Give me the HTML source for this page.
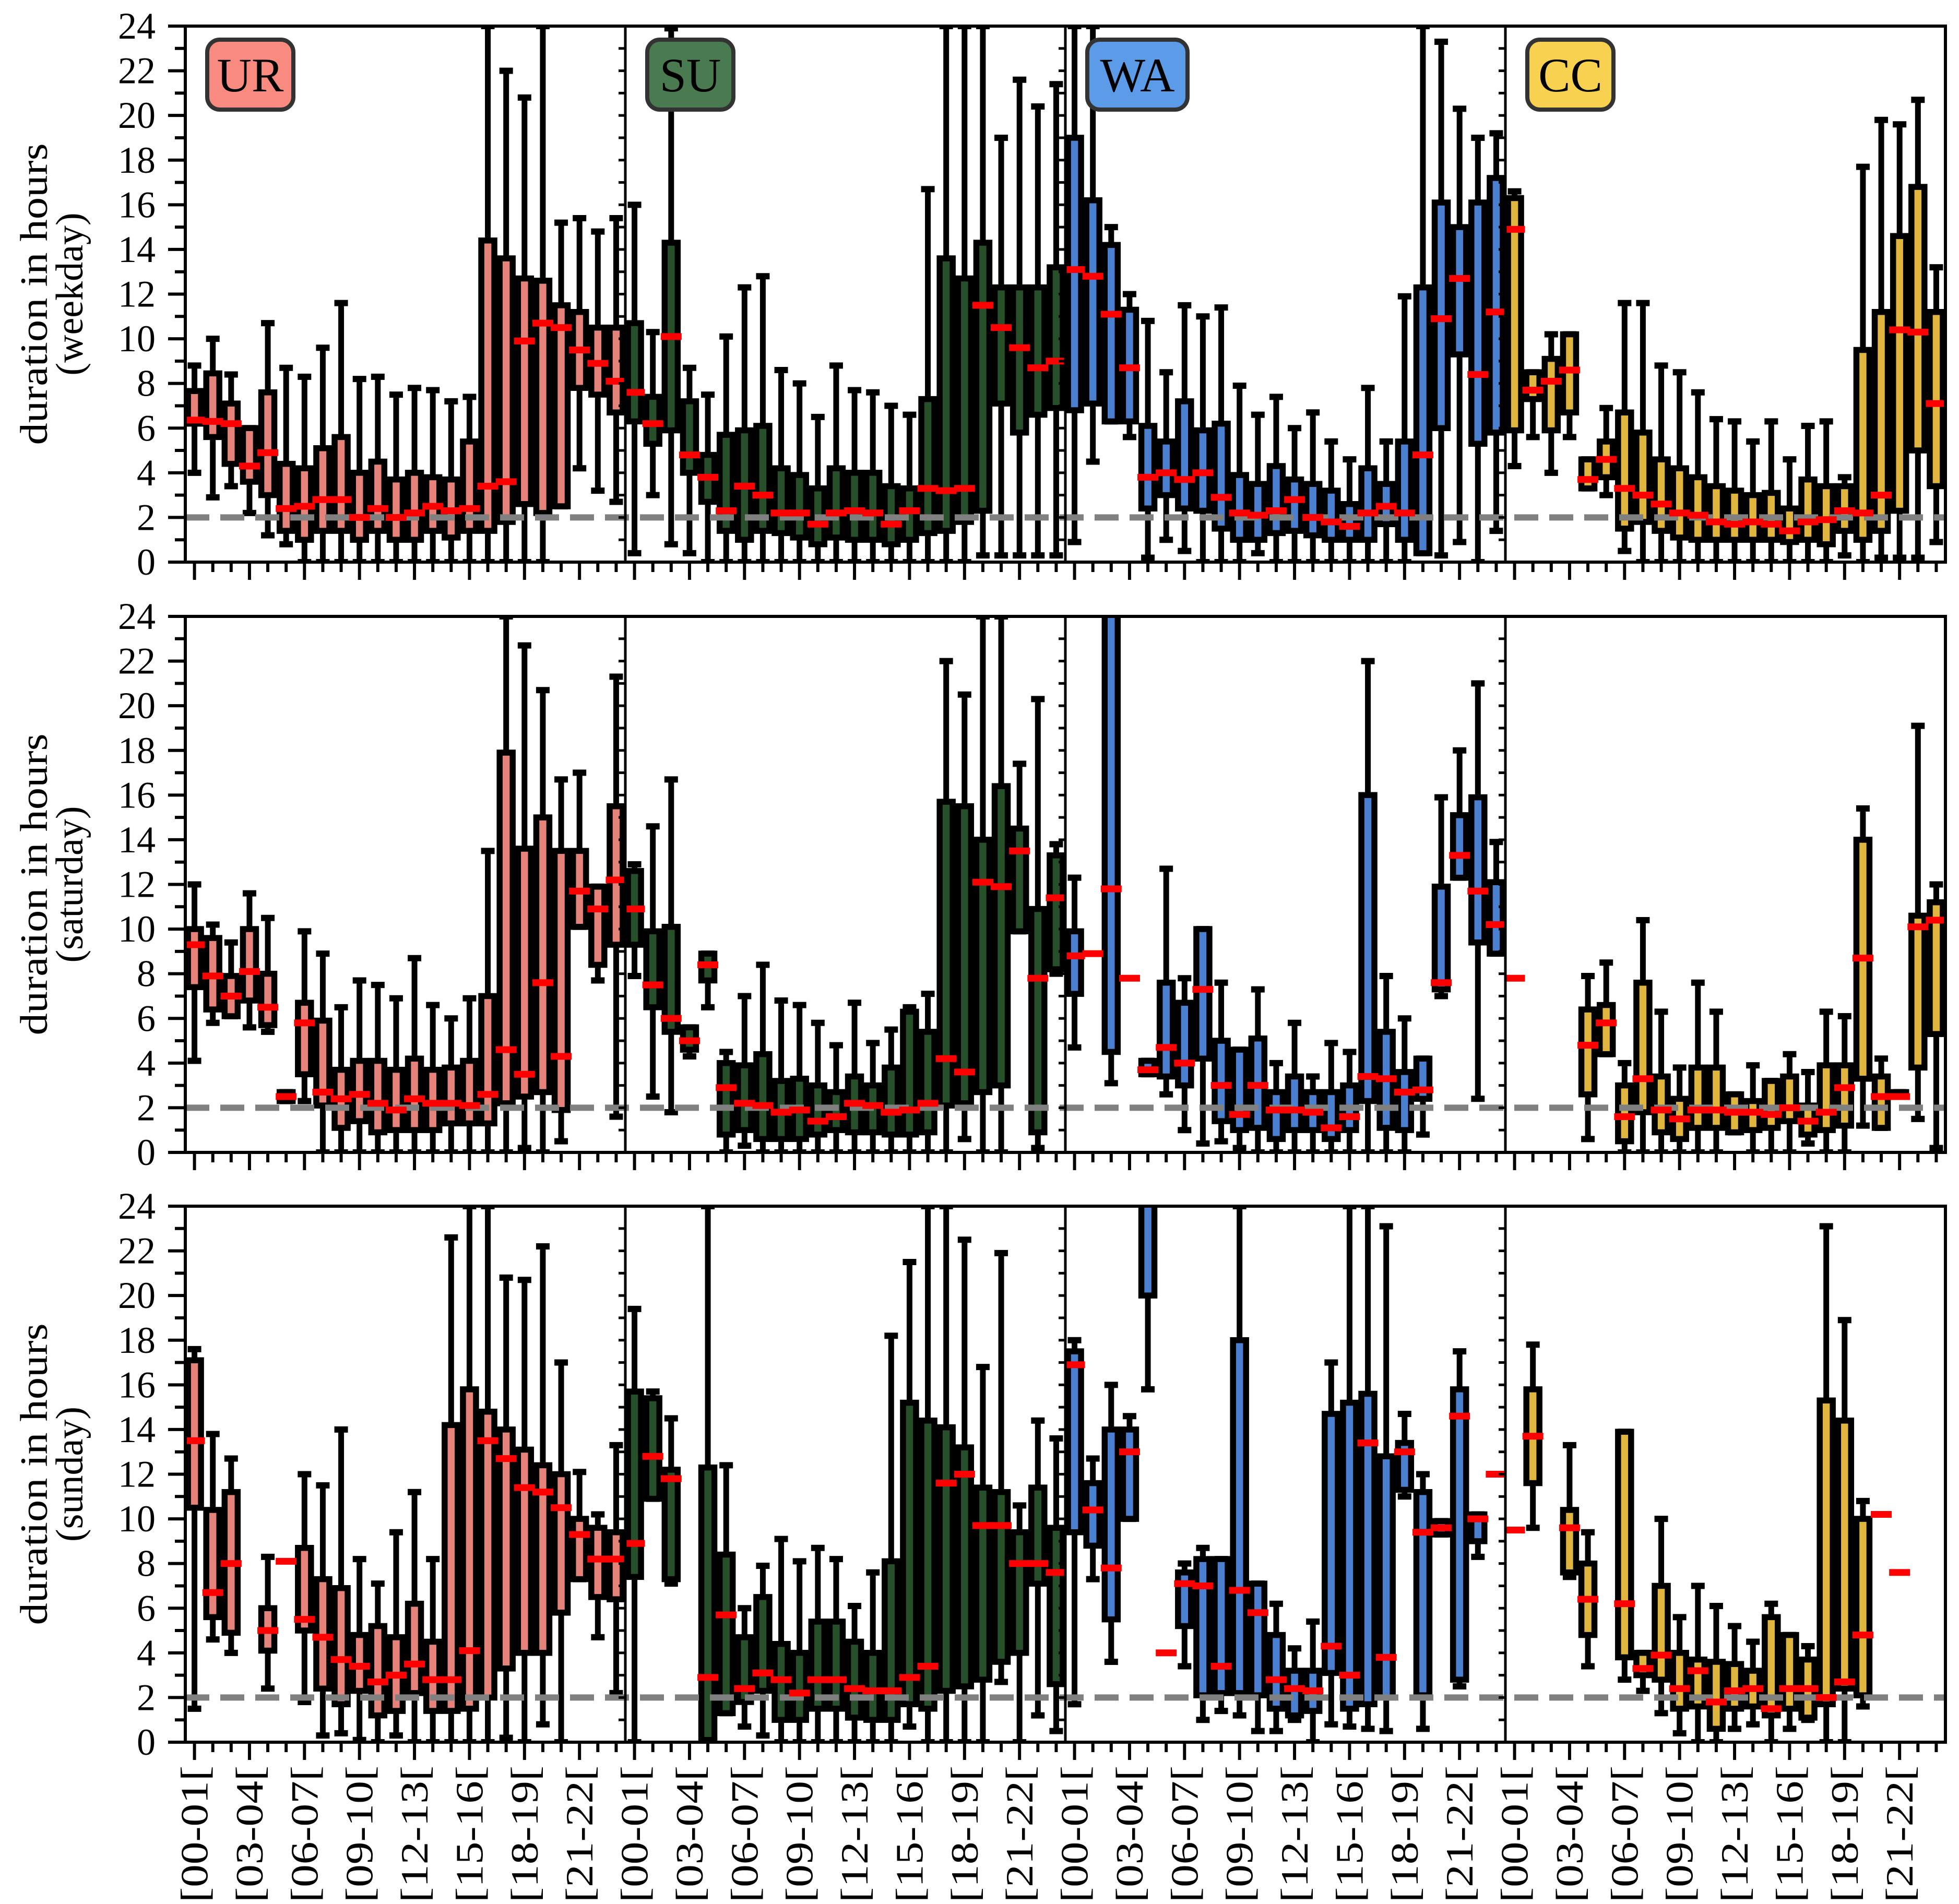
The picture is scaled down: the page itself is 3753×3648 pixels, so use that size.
<!DOCTYPE html>
<html><head><meta charset="utf-8"><title>Duration boxplots</title>
<style>html,body{margin:0;padding:0;background:#fff;}svg{display:block;}</style></head>
<body>
<svg id="chart" width="3753" height="3648" viewBox="0 0 3753 3648" xmlns="http://www.w3.org/2000/svg" font-family="Liberation Serif, serif"></svg>
<script>
const hourLabels = ["[00-01[","[03-04[","[06-07[","[09-10[","[12-13[","[15-16[","[18-19[","[21-22["];
const groupNames = ["UR","SU","WA","CC"];
const rowNames = ["weekday","saturday","sunday"];
const yTicks = [0,2,4,6,8,10,12,14,16,18,20,22,24];
const N=null, M=(m)=>[null,null,m,null,null];

const weekdayUR = [[4,6.2,6.36,7.66,8.8],[2.9,5.6,6.3,8.45,10],[3.4,4.4,6.2,7.1,8.4],[2.2,3.6,4.3,6.0,6.0],[1.2,3.0,4.9,7.6,10.7],[0.8,1.4,2.4,4.4,8.7],[0,1.0,2.5,4.2,8.3],[0,1.4,2.8,5.1,9.6],[0,1.4,2.8,5.6,11.6],[0,1.0,2.0,4.0,8.2],[0,1.4,2.4,4.5,8.3],[0,1.0,2.0,3.7,7.5],[0,1.0,2.2,4.0,7.8],[0,1.4,2.5,3.8,7.7],[0,1.1,2.3,3.7,7.2],[0,1.4,2.4,5.4,7.4],[0,1.4,3.4,14.4,24],[0,1.8,3.6,13.6,22],[0,2.6,9.9,12.7,20.8],[0,2.2,10.7,12.6,24],[2.5,2.5,10.5,11.5,15.2],[4.2,7.8,9.5,11.2,15.4],[3.2,7.5,8.9,10.5,14.8],[2.7,6.7,8.1,10.5,15.4]];
const weekdaySU = [[0.4,6.3,7.6,10.7,16],[3.0,5.3,6.2,7.4,10.3],[0.8,5.9,10.1,14.3,23.9],[0.4,4.0,4.8,7.2,8.7],[0,2.7,3.8,4.8,7.5],[0,1.4,2.3,5.7,10.1],[0,1.0,3.4,5.9,12.3],[0,1.4,3.0,6.1,12.8],[0,1.3,2.2,4.2,8.6],[0,1.1,2.2,3.9,8.0],[0,0.8,1.7,3.3,6.5],[0,1.1,2.2,4.2,8.8],[0,1.0,2.3,4.0,7.7],[0,1.0,2.2,4.0,7.6],[0,0.8,1.7,3.4,7.0],[0,1.0,2.3,3.3,6.6],[0,1.3,3.3,7.3,16.7],[0,1.4,3.2,13.6,24],[0,1.8,3.3,12.7,24],[0.3,2.3,11.5,14.3,24],[0.3,7.1,10.5,12.3,19.0],[0.3,5.8,9.6,12.3,21.6],[0.3,6.6,8.7,12.3,20.4],[0.3,6.9,9.0,13.2,21.4]];
const weekdayWA = [[0.9,6.8,13.1,19.0,24],[4.5,7.1,12.8,16.2,24],[6.3,6.3,11.1,14.2,15.0],[5.6,6.3,8.7,11.3,12.0],[0.2,2.4,3.8,6.1,10.8],[1.0,3.0,4.0,5.4,8.5],[0.5,2.4,3.7,7.2,11.5],[0,2.3,4.0,5.9,11.0],[0,1.5,2.9,6.2,11.4],[0,1.0,2.2,3.9,7.9],[0.4,1.0,2.1,3.5,6.6],[0,1.3,2.3,4.3,7.4],[0,1.4,2.8,3.7,6.0],[0,1.2,2.0,3.5,6.7],[0,1.0,1.8,3.2,5.4],[0,1.0,1.6,2.6,4.6],[0,1.0,2.2,4.2,7.8],[0,1.7,2.5,3.5,5.4],[0,1.0,2.2,5.4,11.9],[0.4,0.4,4.8,12.3,24],[0.3,6.0,10.9,16.1,23.3],[0.9,9.3,12.7,15.0,20.3],[0,5.3,8.4,16.1,19.0],[1.4,5.8,11.2,17.2,19.2]];
const weekdayCC = [[4.3,5.9,14.9,16.3,16.6],[5.6,7.3,7.7,8.5,8.5],[4.0,5.9,8.1,9.1,10.2],[5.6,6.7,8.6,10.2,10.2],[3.3,3.3,3.7,4.6,4.6],[3.0,3.8,4.6,5.4,6.9],[0.5,1.5,3.3,6.7,11.6],[0,1.8,3.0,5.8,11.6],[0,1.4,2.6,4.6,8.8],[0,1.1,2.2,4.2,8.5],[0,1.0,2.1,3.8,7.6],[0,1.0,1.8,3.4,6.4],[0,1.0,1.7,3.2,6.3],[0,1.0,1.8,3.0,5.4],[0,1.0,1.7,3.1,6.3],[0,0.9,1.4,2.4,4.6],[0,1.0,1.8,3.7,6.1],[0,0.8,1.9,3.4,6.3],[0.3,1.4,2.3,3.4,3.8],[0,1.0,2.2,9.5,17.7],[0.2,1.4,3.0,11.2,19.8],[0.2,2.3,10.4,14.6,19.6],[0.2,5.0,10.3,16.8,20.7],[0.9,3.4,7.1,11.2,13.2]];

const saturdayUR = [[4.1,7.4,9.3,10.0,12.0],[5.8,6.4,7.9,9.6,10.2],[6.1,6.1,7.0,7.9,9.4],[5.6,6.8,8.1,10.0,11.6],[5.4,5.7,6.5,8.0,10.5],[2.3,2.3,2.5,2.7,2.7],[2.3,3.5,5.8,6.7,9.9],[0,2.1,2.7,5.9,8.9],[0,1.1,2.4,3.7,6.5],[0,1.4,2.6,4.1,7.7],[0,0.9,2.2,4.1,7.5],[0,1.0,1.9,3.7,6.9],[0,1.0,2.4,4.2,8.7],[0,1.0,2.2,3.7,6.6],[0,1.3,2.2,3.8,6.0],[0,1.3,2.1,4.1,6.9],[0,1.3,2.6,7.0,13.5],[0,2.2,4.6,17.9,24],[0.2,2.5,3.5,13.6,22.7],[0,2.7,7.6,15.0,20.7],[0.5,1.9,4.3,13.5,16.7],[10.1,10.1,11.7,13.5,17.0],[7.7,8.4,10.9,11.9,11.9],[1.6,9.3,12.2,15.5,21.3]];
const saturdaySU = [[7.9,9.3,10.9,12.6,12.9],[2.5,6.5,7.5,9.9,14.6],[1.8,5.4,6.0,10.1,16.7],[4.3,4.6,5.0,5.6,5.6],[6.5,7.7,8.4,8.9,8.9],[0,0.8,2.9,4.0,4.5],[0.3,1.0,2.2,3.9,7.0],[0,0.6,2.1,4.4,8.4],[0,0.6,1.8,3.2,6.8],[0,0.6,1.9,3.3,6.6],[0,0.8,1.4,3.0,5.8],[0,1.0,1.6,2.7,4.8],[0,0.9,2.2,3.4,6.7],[0,0.9,2.1,3.0,4.9],[0,0.8,1.8,3.8,5.5],[0,0.8,1.9,6.3,6.5],[0,0.9,2.2,5.4,7.1],[0,2.1,4.2,15.7,22.0],[0.6,2.2,3.6,15.5,20.5],[0,2.7,12.1,14.0,24],[0,3.0,11.9,16.4,24],[9.9,9.9,13.5,14.5,17.4],[0.2,0.9,7.8,10.9,20.3],[8.0,8.2,11.4,13.3,13.8]];
const saturdayWA = [[4.7,7.1,8.8,9.9,12.3],M(8.9),[3.1,4.5,11.8,26,26],M(7.8),[3.5,3.5,3.7,4.1,4.1],[2.6,3.4,4.7,7.6,12.7],[1.0,3.0,4.0,6.7,7.8],[0.4,4.2,7.3,10.0,10.0],[0.5,1.4,3.0,5.0,7.6],[0.2,1.0,1.7,4.6,4.6],[0,1.1,3.0,5.1,7.3],[0,0.6,1.9,2.7,4.0],[0,1.0,1.9,3.4,5.8],[0,1.0,1.8,2.7,3.4],[0,0.6,1.1,2.7,4.9],[0,1.0,1.6,3.0,4.5],[0,2.3,3.4,16.0,22.0],[0,1.1,3.3,5.4,7.9],[0,1.0,2.7,3.6,6.0],[0.8,2.4,2.8,4.2,4.2],[7.0,7.3,7.6,11.9,15.9],[12.3,12.3,13.3,15.1,18.0],[2.4,9.4,11.7,15.9,21.0],[8.9,8.9,10.2,12.1,13.9]];
const saturdayCC = [M(7.8),N,N,N,[0.6,2.6,4.8,6.4,7.9],[4.4,4.4,5.8,6.6,8.5],[0,0.5,1.6,3.0,4.0],[0,1.8,3.3,7.6,10.4],[0,0.9,1.9,3.4,6.3],[0,0.6,1.5,2.4,3.8],[0,1.1,1.9,3.8,7.6],[0,1.1,1.9,3.8,6.3],[0.9,0.9,1.8,2.6,2.6],[0,1.0,1.8,2.3,3.9],[0,1.1,1.7,3.2,3.2],[0,1.4,2.0,3.4,4.4],[0.4,0.8,1.4,2.1,3.6],[0,1.0,1.8,3.9,6.3],[0,1.2,2.9,3.9,6.1],[1.2,3.3,8.7,14.0,15.4],[1.1,1.1,2.5,3.4,4.2],[2.5,2.5,2.5,2.7,2.7],[1.5,3.8,10.1,10.6,19.1],[0.2,5.3,10.4,11.2,12.0]];

const sundayUR = [[1.5,10.5,13.5,17.1,17.6],[4.6,5.6,6.7,10.4,13.8],[4.0,4.9,8.0,11.2,12.7],N,[2.4,4.1,5.0,6.0,8.3],M(8.1),[1.8,5.0,5.5,8.7,12.0],[0.3,2.4,4.7,7.3,11.5],[0.4,1.7,3.7,6.9,14.0],[0.1,2.3,3.4,4.8,8.2],[0,1.2,2.7,5.2,7.1],[0.3,1.4,3.0,4.7,9.4],[0,2.2,3.5,6.2,11.2],[0,1.4,2.8,4.5,8.2],[0,1.4,2.8,14.2,22.6],[0,1.5,4.1,15.8,24],[0,2.0,13.5,14.8,24],[0.2,3.3,12.7,14.0,20.8],[0,4.0,11.4,13.1,20.7],[0.8,4.0,11.2,12.4,22.2],[0,5.8,10.5,12.0,17.0],[7.3,7.3,9.3,10.0,12.1],[4.7,6.5,8.2,9.6,10.2],[2.2,6.4,8.2,9.4,13.3]];
const sundaySU = [[0,7.4,8.9,15.7,19.4],[10.9,10.9,12.8,15.4,15.7],[7.1,7.3,11.8,12.2,14.5],N,[0,0.1,2.9,12.3,24],[1.3,1.3,5.7,8.4,12.4],[0.7,1.8,2.4,4.7,6.0],[0.3,2.3,3.1,6.5,7.9],[0,1.0,2.8,4.4,9.1],[0,1.0,2.2,4.0,8.1],[0,1.5,2.8,5.4,8.7],[0,1.5,2.8,5.4,8.2],[0,1.1,2.4,4.5,6.1],[0,1.0,2.3,4.0,7.6],[0,1.0,2.3,8.1,18.2],[0.7,1.7,2.9,15.2,21.5],[0,1.5,3.4,14.4,24],[0,2.3,11.6,14.1,24],[0,2.5,12.0,13.2,22.5],[0,2.8,9.7,11.4,16.8],[2.7,3.6,9.7,11.2,21.9],[0,4.0,8.0,9.4,10.6],[1.2,7.1,8.0,11.4,14.4],[0.5,2.6,7.6,9.6,13.6]];
const sundayWA = [[1.7,9.4,16.9,17.5,18.0],[7.3,8.8,10.4,11.6,12.7],[3.6,5.5,7.8,14.0,16.0],[10.0,10.0,13.0,14.0,14.6],[15.8,20.0,25,26,26],M(4.0),[3.4,5.2,7.1,7.6,8.0],[1.0,2.1,7.0,8.2,8.7],[1.4,2.2,3.4,8.2,8.2],[1.2,2.2,6.8,18.0,24],[0.5,2.1,5.8,7.1,7.1],[0.5,1.5,2.8,4.8,6.2],[1.0,1.2,2.4,3.2,4.2],[0,1.4,2.3,3.2,5.4],[0.8,3.1,4.3,14.7,17.0],[0.7,1.5,3.0,15.2,24],[0.6,1.7,13.4,15.6,24],[0.5,2.0,3.8,12.8,23.1],[11.0,11.3,13.0,13.4,14.7],[0.6,2.1,9.4,11.2,12.0],[9.3,9.3,9.6,9.9,9.9],[2.5,2.8,14.6,15.8,17.5],[8.3,9.0,10.0,10.2,10.2],M(12.0)];
const sundayCC = [M(9.5),[9.6,11.6,13.7,15.8,17.8],N,[7.4,7.6,9.6,10.4,13.3],[3.4,4.8,6.4,8.0,9.4],N,[2.8,3.8,6.2,13.9,13.9],[2.3,3.0,3.3,4.0,4.0],[1.3,2.8,3.9,7.0,10.0],[0.4,1.5,2.4,4.0,5.6],[0,1.6,3.2,3.7,7.0],[0,0.6,1.8,3.6,6.1],[0.6,1.5,2.3,3.5,5.2],[0.8,1.6,2.4,3.2,4.5],[0,1.2,1.5,5.6,6.2],[0.6,1.5,2.4,4.8,4.8],[1.0,1.1,2.4,3.7,4.3],[0,1.7,2.0,15.3,23.1],[0,2.4,2.7,14.4,18.9],[1.6,2.1,4.8,10.0,10.8],M(10.2),M(7.6),N,N];

const panels = [[weekdayUR,weekdaySU,weekdayWA,weekdayCC],[saturdayUR,saturdaySU,saturdayWA,saturdayCC],[sundayUR,sundaySU,sundayWA,sundayCC]];

const NS="http://www.w3.org/2000/svg";
const svg=document.getElementById('chart');
const L=355, R=3727, GW=(R-L)/4, SL=GW/24, H=1027;
const rowTop=[50,1181,2311];
const fills=["#e5837a","#27502a","#4a80cf","#dfb53f"];
const tagFills=["#f98a80","#4a7a4f","#5b9be8","#f9d150"];
function yv(v,r){return rowTop[r]+H*(1-v/24);}
function xc(g,i){return L+g*GW+SL*(i+0.5);}
function el(tag,attrs,parent){const e=document.createElementNS(NS,tag);for(const k in attrs)e.setAttribute(k,attrs[k]);(parent||svg).appendChild(e);return e;}

const defs=el('defs',{});
for(let r=0;r<3;r++){
  const cp=el('clipPath',{id:'clip'+r},defs);
  el('rect',{x:L,y:rowTop[r],width:R-L,height:H},cp);
}

for(let r=0;r<3;r++){
  const top=rowTop[r], bot=top+H;
  const rowG=el('g',{});
  
  
  const plot=el('g',{'clip-path':'url(#clip'+r+')'},rowG);
  for(let g=0;g<4;g++){
    const data=panels[r][g];
    const pg=el('g',{},plot);
    
    
    for(let i=0;i<24;i++){
      const d=data[i]; if(!d||d[1]===null) continue;
      const c=xc(g,i);
      const bg=el('g',{},pg);
      
      
      el('line',{x1:c,x2:c,y1:yv(d[3],r),y2:yv(d[4],r),stroke:'#000','stroke-width':11},bg);
      el('line',{x1:c,x2:c,y1:yv(d[1],r),y2:yv(d[0],r),stroke:'#000','stroke-width':11},bg);
      el('line',{x1:c-13,x2:c+13,y1:yv(d[4],r),y2:yv(d[4],r),stroke:'#000','stroke-width':12},bg);
      el('line',{x1:c-13,x2:c+13,y1:yv(d[0],r),y2:yv(d[0],r),stroke:'#000','stroke-width':12},bg);
      const y3=yv(d[3],r), y1=yv(d[1],r);
      el('rect',{x:c-12.5,y:y3,width:25,height:Math.max(y1-y3,0.5),fill:fills[g],stroke:'#000','stroke-width':11.5},bg);
    }
  }
  const dash=el('line',{x1:L,x2:R,y1:yv(2,r),y2:yv(2,r),stroke:'#808080','stroke-width':12,'stroke-dasharray':'46 21'},plot);
  
  
  for(let g=0;g<4;g++){
    const data=panels[r][g];
    for(let i=0;i<24;i++){
      const d=data[i]; if(!d) continue;
      const c=xc(g,i);
      const m=el('rect',{x:c-20,y:yv(d[2],r)-6.5,width:40,height:13,fill:'#ff0000'},plot);
      
      
    }
  }
  for(let g=1;g<4;g++){
    const x=L+g*GW;
    const dv=el('line',{x1:x,x2:x,y1:top,y2:bot,stroke:'#000','stroke-width':5},rowG);
    
    
    for(let v=1;v<24;v++){
      el('line',{x1:x-13,x2:x,y1:yv(v,r),y2:yv(v,r),stroke:'#000','stroke-width':5},rowG);
    }
  }
  const frame=el('rect',{x:L,y:top,width:R-L,height:H,fill:'none',stroke:'#000','stroke-width':6},rowG);
  
  
  for(let v=0;v<=24;v++){
    const y=yv(v,r);
    el('line',{x1:L-(v%2===0?33:20),x2:L,y1:y,y2:y,stroke:'#000','stroke-width':6},rowG);
  }
  for(const t of yTicks){
    const tx=el('text',{x:298,y:yv(t,r)+24,'font-size':72,'text-anchor':'end',fill:'#000'},rowG);
    
    
    tx.textContent=String(t);
  }
  for(let g=0;g<4;g++){
    for(let i=0;i<24;i++){
      const x=xc(g,i);
      el('line',{x1:x,x2:x,y1:bot,y2:bot+(i%3===0?34:19),stroke:'#000','stroke-width':6},rowG);
    }
  }
  const cy=top+H/2;
  const t1=el('text',{x:0,y:0,'font-size':74,'text-anchor':'middle',transform:'translate(90,'+cy+') rotate(-90)',textLength:578,lengthAdjust:'spacingAndGlyphs'},rowG);
  
  
  t1.textContent='duration in hours';
  const t2=el('text',{x:0,y:0,'font-size':74,'text-anchor':'middle',transform:'translate(158,'+cy+') rotate(-90)'},rowG);
  
  
  t2.textContent='('+rowNames[r]+')';
}

for(let g=0;g<4;g++){
  const x=L+g*GW+42, w=(g===2?192:165);
  const tg=el('g',{});
  
  
  el('rect',{x:x,y:76,width:w,height:134,rx:24,ry:24,fill:tagFills[g],stroke:'#333','stroke-width':8},tg);
  const t=el('text',{x:x+w/2,y:175,'font-size':92,'text-anchor':'middle',fill:'#000'},tg);
  t.textContent=groupNames[g];
}

const botY=rowTop[2]+H;
for(let g=0;g<4;g++){
  for(let k=0;k<hourLabels.length;k++){
    const c=xc(g,k*3);
    const t=el('text',{x:0,y:0,'font-size':74,'text-anchor':'end',transform:'translate('+(c+25)+','+(botY+45)+') rotate(-90)',textLength:262,lengthAdjust:'spacingAndGlyphs'});
    
    
    t.textContent=hourLabels[k];
  }
}
</script>
</body></html>
